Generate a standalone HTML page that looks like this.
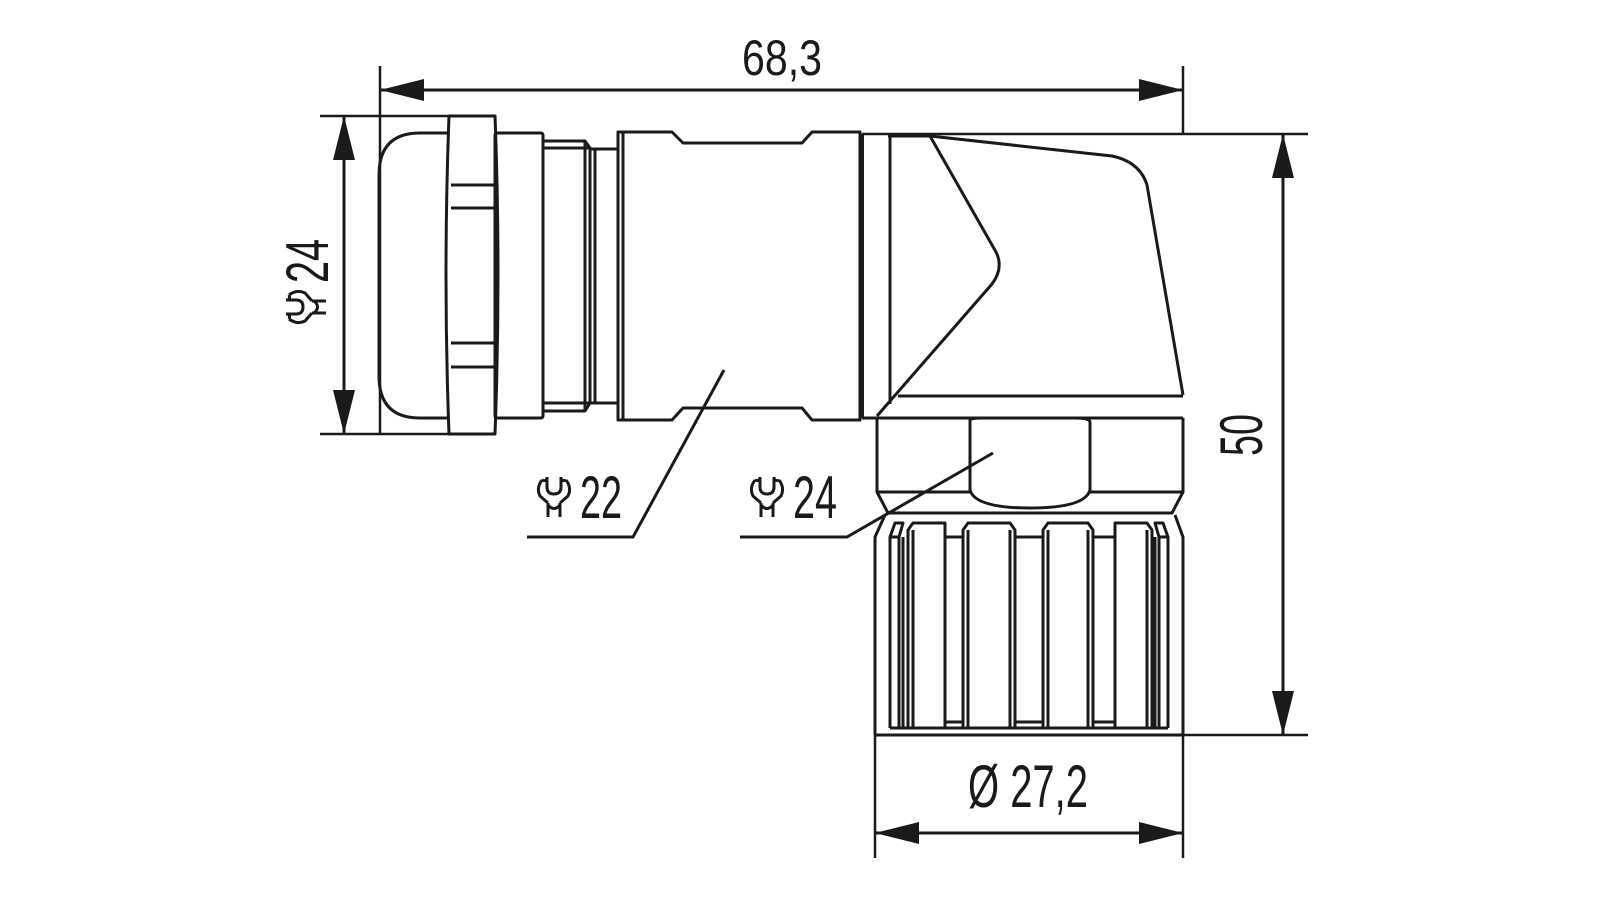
<!DOCTYPE html>
<html><head><meta charset="utf-8"><style>html,body{margin:0;padding:0;background:#fff;}svg{display:block}</style></head>
<body>
<svg width="1600" height="900" viewBox="0 0 1600 900" xmlns="http://www.w3.org/2000/svg">
<defs>
<g id="wr" fill="none" stroke="#1a1a1a" stroke-width="3" stroke-linejoin="round">
  <path d="M11,1 L11,11 Q11,18 18,18 Q25,18 25,11 L25,1"/>
  <path d="M6,4 Q0,12 4,20 L12,27 M30,4 Q36,12 32,20 L24,27"/>
  <path d="M6,4 Q11,6 11,1 M30,4 Q25,6 25,1"/>
  <path d="M12,27 L12,41 M24,27 L24,41 M12,29 Q18,36 24,29"/>
</g>
</defs>
<g fill="none" stroke="#1a1a1a" stroke-width="3" stroke-linejoin="round">
<!-- dimension lines -->
<line x1="380" y1="66" x2="380" y2="434" stroke-width="2.5"/>
<line x1="1183" y1="66" x2="1183" y2="134" stroke-width="2.5"/>
<line x1="380" y1="90" x2="1183" y2="90"/>
<line x1="320" y1="116" x2="495" y2="116" stroke-width="2.5"/>
<line x1="320" y1="434" x2="495" y2="434" stroke-width="2.5"/>
<line x1="344" y1="116" x2="344" y2="434"/>
<line x1="862" y1="134" x2="1308" y2="134" stroke-width="2.5"/>
<line x1="1183" y1="735" x2="1308" y2="735" stroke-width="2.5"/>
<line x1="1283" y1="134" x2="1283" y2="735"/>
<line x1="875" y1="735" x2="875" y2="858" stroke-width="2.5"/>
<line x1="1183" y1="735" x2="1183" y2="858" stroke-width="2.5"/>
<line x1="875" y1="833" x2="1183" y2="833"/>
<!-- leaders -->
<polyline points="527,537 633,537 724,370"/>
<polyline points="740,537 847,537 993,453"/>
<!-- left cap -->
<path d="M449,133 L420,133 Q379,133 379,175 L379,376 Q379,418 420,418 L449,418"/>
<path d="M449,116 Q443,275 449,434 L495,434 Q501,275 495,116 Z"/>
<path d="M451,185 L494,185 M451,208 L494,208 M451,343 L494,343 M451,367 L494,367"/>
<rect x="495" y="133" width="48" height="285" rx="2"/>
<path d="M543,141 L585,141 L590,148 L590,403 L585,411 L543,411"/>
<path d="M543,148 L590,148 M543,403 L590,403 M585,141 L585,411"/>
<path d="M590,149 L618,149 M590,403 L618,403 M595,149 L595,403"/>
<!-- body -->
<path d="M618,132 L672,132 L683,143 L802,143 L812,132 L860,132 L860,420 L812,420 L802,408 L683,408 L672,420 L618,420 Z"/>
<line x1="623" y1="133" x2="623" y2="419"/>
<!-- elbow -->
<line x1="862" y1="134" x2="862" y2="418" stroke-width="4"/>
<line x1="890" y1="136" x2="890" y2="404"/>
<path d="M930,136 L996,252 Q1004,268 992,284 L877,416"/>
<path d="M888,136 L930,136 L1112,156 Q1140,162 1147,185 L1183,395"/>
<line x1="898" y1="396" x2="1183" y2="396"/>
<line x1="862" y1="418" x2="1183" y2="418"/>
<!-- nut -->
<path d="M877,418 L877,492 L888,513 L1172,513 L1183,492 L1183,418"/>
<line x1="877" y1="492" x2="970" y2="492"/>
<line x1="1090" y1="492" x2="1183" y2="492"/>
<path d="M970,420 Q970,418 985,418 L1075,418 Q1090,418 1090,422 L1090,490 Q1085,508 1030,508 Q975,508 970,490 Z"/>
<!-- knurl -->
<path d="M875,735 L875,537 L885,515"/>
<path d="M1183,735 L1183,537 L1175,515"/>
<line x1="875" y1="735" x2="1183" y2="735"/>
<path d="M890,728 L890,537 L895,523 L903,523 L899,537"/>
<path d="M1168,728 L1168,537 L1163,523 L1155,523 L1159,537"/>
<line x1="890" y1="537" x2="899" y2="537"/>
<line x1="1159" y1="537" x2="1168" y2="537"/>
<path d="M899,537 L899,728 M903,537 L903,728"/>
<path d="M1155,537 L1155,728 M1159,537 L1159,728"/>
<line x1="890" y1="728" x2="1168" y2="728"/>
<!-- ribs -->
<path d="M908,728 L908,530 L913,523 L945,523 L945,728"/>
<path d="M963,728 L963,530 L968,523 L1010,523 L1015,530 L1015,728"/>
<path d="M968,530 L968,728 M1010,530 L1010,728"/>
<path d="M1043,728 L1043,530 L1048,523 L1088,523 L1093,530 L1093,728"/>
<path d="M1048,530 L1048,728 M1088,530 L1088,728"/>
<path d="M1115,728 L1115,523 L1147,523 L1152,530 L1152,728"/>
<path d="M913,530 L913,728 M1147,530 L1147,728"/>
<path d="M945,537 L963,537 M1015,537 L1043,537 M1093,537 L1115,537"/>
<path d="M945,722 L963,722 M1015,722 L1043,722 M1093,722 L1115,722"/>
</g>
<!-- arrowheads -->
<g fill="#1a1a1a" stroke="none">
<polygon points="380,90 424,79 424,101"/>
<polygon points="1183,90 1139,79 1139,101"/>
<polygon points="344,116 333,160 355,160"/>
<polygon points="344,434 333,390 355,390"/>
<polygon points="1283,134 1272,178 1294,178"/>
<polygon points="1283,735 1272,691 1294,691"/>
<polygon points="875,833 919,822 919,844"/>
<polygon points="1183,833 1139,822 1139,844"/>
</g>
<!-- text -->
<g font-family="'Liberation Sans', sans-serif" fill="#1a1a1a">
<text x="742" y="75" font-size="50" textLength="80" lengthAdjust="spacingAndGlyphs">68,3</text>
<text x="968" y="807" font-size="60" textLength="120" lengthAdjust="spacingAndGlyphs">Ø 27,2</text>
<text x="580" y="518" font-size="60" textLength="42" lengthAdjust="spacingAndGlyphs">22</text>
<text x="793" y="518" font-size="60" textLength="44" lengthAdjust="spacingAndGlyphs">24</text>
<g transform="translate(1262,435) rotate(-90)"><text x="0" y="0" font-size="60" text-anchor="middle" textLength="42" lengthAdjust="spacingAndGlyphs">50</text></g>
<g transform="translate(328,279) rotate(-90)"><text x="-4" y="0" font-size="60" textLength="44" lengthAdjust="spacingAndGlyphs">24</text></g>
</g>
<use href="#wr" x="536" y="476"/>
<use href="#wr" x="749" y="476"/>
<g transform="translate(285,325) rotate(-90)"><use href="#wr" x="0" y="0"/></g>
</svg>
</body></html>
